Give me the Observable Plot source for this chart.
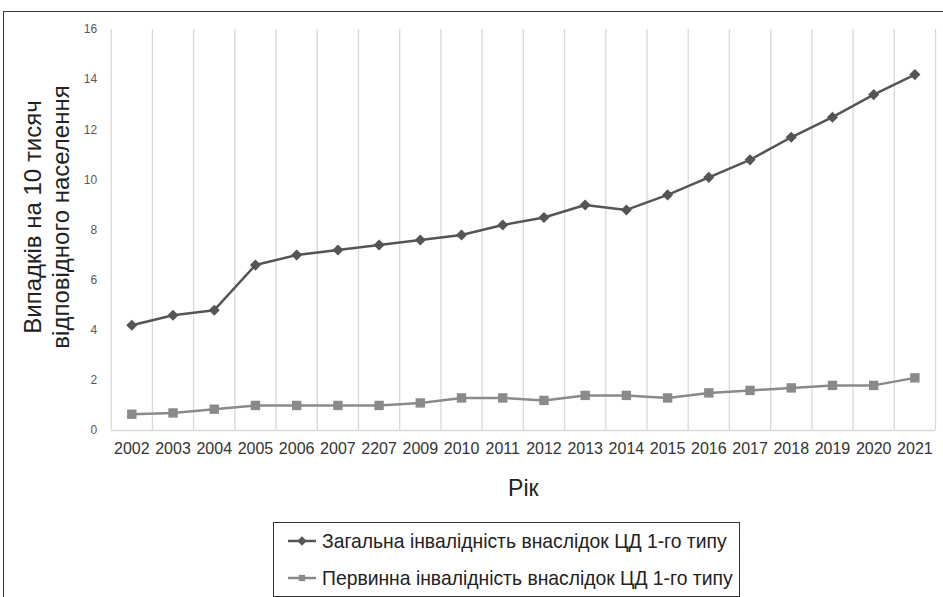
<!DOCTYPE html>
<html>
<head>
<meta charset="utf-8">
<script src="https://cdn.jsdelivr.net/npm/d3@7"></script>
<script src="https://cdn.jsdelivr.net/npm/@observablehq/plot@0.6"></script>
<style>
  html, body { margin: 0; padding: 0; background: #fff; }
  body { width: 943px; height: 597px; overflow: hidden; font-family: "Liberation Sans", Arial, sans-serif; }
  #wrap { position: relative; width: 943px; height: 597px; }
  #frame { position: absolute; left: 3px; top: 11px; right: -2px; bottom: -2px; border-left: 1.5px solid #3a3a3a; border-top: 1.5px solid #3a3a3a; pointer-events: none; }
  #chart { position: absolute; left: 0; top: 0; }
  #legend { position: absolute; left: 273px; top: 522px; width: 467px; height: 75px; border: 1px solid #333; box-sizing: border-box; background: #fff; }
  .row { position: absolute; left: 14px; display: flex; align-items: center; font-size: 21px; color: #222; white-space: nowrap; }
  .row svg { margin-right: 6px; }
  .row span { display: inline-block; transform: scaleX(0.92); transform-origin: left center; }
</style>
</head>
<body>
<div id="wrap">
  <div id="chart"></div>
  <div id="frame"></div>
  <div id="legend"></div>
</div>
<script>
const years = ["2002","2003","2004","2005","2006","2007","2207","2009","2010","2011","2012","2013","2014","2015","2016","2017","2018","2019","2020","2021"];
const totalDisability = [4.2, 4.6, 4.8, 6.6, 7.0, 7.2, 7.4, 7.6, 7.8, 8.2, 8.5, 9.0, 8.8, 9.4, 10.1, 10.8, 11.7, 12.5, 13.4, 14.2];
const primaryDisability = [0.65, 0.7, 0.85, 1.0, 1.0, 1.0, 1.0, 1.1, 1.3, 1.3, 1.2, 1.4, 1.4, 1.3, 1.5, 1.6, 1.7, 1.8, 1.8, 2.1];
const yTicks = [0, 2, 4, 6, 8, 10, 12, 14, 16];
const seriesNames = ["Загальна інвалідність внаслідок ЦД 1-го типу", "Первинна інвалідність внаслідок ЦД 1-го типу"];
const yTitle = ["Випадків на 10 тисяч", "відповідного населення"];
const xTitle = "Рік";

const c1 = "#555555", c2 = "#8a8a8a";
const d1 = years.map((y, i) => ({i: i + 0.5, v: totalDisability[i]}));
const d2 = years.map((y, i) => ({i: i + 0.5, v: primaryDisability[i]}));
const edges = d3.range(years.length + 1);

const plot = Plot.plot({
  width: 943,
  height: 515,
  marginLeft: 110.7,
  marginRight: 8,
  marginTop: 29,
  marginBottom: 85,
  style: {fontFamily: "'Liberation Sans', Arial, sans-serif", background: "transparent"},
  x: {domain: [0, years.length], axis: null},
  y: {domain: [0, 16], axis: null},
  marks: [
    Plot.ruleX(edges, {x: d => d, y1: 0, y2: 16, stroke: "#d9d9d9", strokeWidth: 1.3}),
    Plot.ruleY([0], {stroke: "#d9d9d9", strokeWidth: 1.5}),
    Plot.axisY({ticks: yTicks, tickSize: 0, tickPadding: 14, fontSize: 12, color: "#595959", label: null}),
    Plot.axisX({ticks: years.map((y, i) => i + 0.5), tickFormat: d => years[Math.floor(d)], tickSize: 0, tickPadding: 12, fontSize: 16, color: "#333", label: null}),
    Plot.line(d2, {x: "i", y: "v", stroke: c2, strokeWidth: 2.5}),
    Plot.dot(d2, {x: "i", y: "v", symbol: "square", r: 5.3, fill: c2, stroke: "none"}),
    Plot.line(d1, {x: "i", y: "v", stroke: c1, strokeWidth: 2.5}),
    Plot.dot(d1, {x: "i", y: "v", symbol: "diamond2", r: 5, fill: c1, stroke: "none"}),
    Plot.text([xTitle], {frameAnchor: "bottom", dy: 65, fontSize: 23, fill: "#222"}),
    Plot.text([yTitle[0]], {frameAnchor: "left", textAnchor: "middle", rotate: -90, dx: -78, dy: -13, fontSize: 24, fill: "#222"}),
    Plot.text([yTitle[1]], {frameAnchor: "left", textAnchor: "middle", rotate: -90, dx: -50, dy: -13, fontSize: 24, fill: "#222"})
  ]
});
document.getElementById("chart").appendChild(plot);

// legend
const legend = d3.select("#legend");
const rows = [{name: seriesNames[0], color: c1, sym: d3.symbolDiamond2, size: 55, top: 3},
              {name: seriesNames[1], color: c2, sym: d3.symbolSquare, size: 40, top: 40}];
rows.forEach(r => {
  const row = legend.append("div").attr("class", "row").style("top", r.top + "px").style("height", "30px");
  const s = row.append("svg").attr("width", 28).attr("height", 12);
  s.append("line").attr("x1", 0).attr("x2", 28).attr("y1", 6).attr("y2", 6).attr("stroke", r.color).attr("stroke-width", 2.5);
  s.append("path").attr("transform", "translate(14,6)").attr("d", d3.symbol(r.sym, r.size)()).attr("fill", r.color);
  row.append("span").text(r.name);
});
</script>
</body>
</html>
